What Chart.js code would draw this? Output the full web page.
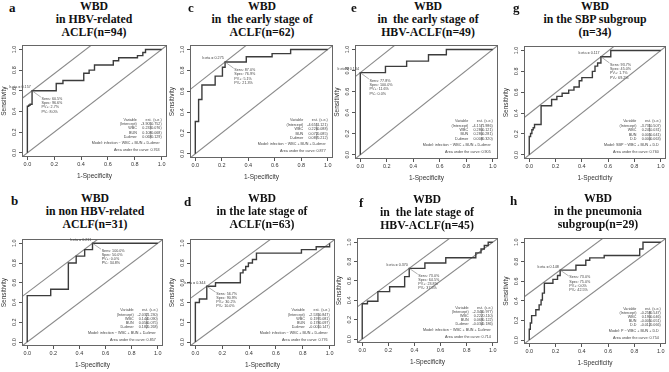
<!DOCTYPE html>
<html>
<head>
<meta charset="utf-8">
<script src="https://cdn.jsdelivr.net/npm/chart.js@4.4.1/dist/chart.umd.min.js"></script>
<style>
  body { margin: 0; background: #fff; width: 669px; height: 372px; position: relative; overflow: hidden; font-family: "Liberation Serif", serif; }
  .ttl { position: absolute; width: 170px; text-align: center; font-weight: bold; font-size: 11.8px; line-height: 13px; color: #111; white-space: pre; }
  .lab { position: absolute; font-weight: bold; font-size: 13px; line-height: 13px; color: #111; }
  canvas { position: absolute; }
</style>
</head>
<body>
<script>
// ---------- data ----------
const tickValues = [0, 0.2, 0.4, 0.6, 0.8, 1.0];

const fprA = [0, 0, 0.01, 0.01, 0.02, 0.02, 0.035, 0.035, 0.215, 0.215, 0.265, 0.265, 0.42, 0.42, 0.46, 0.46, 0.50, 0.50, 0.64, 0.64, 0.68, 0.68, 0.82, 0.82, 0.86, 0.86, 0.88, 0.88, 1];
const tprA = [0, 0.45, 0.45, 0.46, 0.46, 0.47, 0.47, 0.60, 0.60, 0.67, 0.67, 0.70, 0.70, 0.77, 0.77, 0.80, 0.80, 0.85, 0.85, 0.89, 0.89, 0.92, 0.92, 0.94, 0.94, 0.97, 0.97, 1, 1];
const cutA = [0.035, 0.60];

const fprB = [0, 0, 0.18, 0.18, 0.315, 0.315, 0.375, 0.375, 0.44, 0.44, 0.5, 0.5, 1];
const tprB = [0, 0.47, 0.47, 0.535, 0.535, 0.80, 0.80, 0.87, 0.87, 0.935, 0.935, 1, 1];
const cutB = [0.5, 1];

const fprC = [0, 0, 0.025, 0.025, 0.05, 0.05, 0.15, 0.15, 0.205, 0.205, 0.225, 0.225, 0.385, 0.385, 0.58, 0.58, 0.72, 0.72, 1];
const tprC = [0, 0.31, 0.31, 0.52, 0.52, 0.66, 0.66, 0.745, 0.745, 0.83, 0.83, 0.88, 0.88, 0.93, 0.93, 0.96, 0.96, 1, 1];
const cutC = [0.225, 0.88];

const fprD = [0, 0, 0.03, 0.03, 0.085, 0.085, 0.15, 0.15, 0.335, 0.335, 0.355, 0.355, 0.375, 0.375, 0.395, 0.395, 0.425, 0.425, 0.455, 0.455, 0.79, 0.79, 0.9, 0.9, 1, 1];
const tprD = [0, 0.40, 0.40, 0.435, 0.435, 0.565, 0.565, 0.60, 0.60, 0.70, 0.70, 0.73, 0.73, 0.765, 0.765, 0.80, 0.80, 0.835, 0.835, 0.90, 0.90, 0.935, 0.935, 0.965, 0.965, 1];
const cutD = [0.085, 0.565];

const fprE = [0, 0, 0.19, 0.19, 0.35, 0.35, 0.515, 0.515, 0.65, 0.65, 1];
const tprE = [0, 0.78, 0.78, 0.84, 0.84, 0.89, 0.89, 0.95, 0.95, 1, 1];
const cutE = [0, 0.78];

const fprF = [0, 0, 0.04, 0.04, 0.12, 0.12, 0.21, 0.21, 0.325, 0.325, 0.36, 0.36, 0.48, 0.48, 0.64, 0.64, 0.87, 0.87, 0.91, 0.91, 0.935, 0.935, 0.965, 0.965, 1];
const tprF = [0, 0.365, 0.365, 0.39, 0.39, 0.49, 0.49, 0.54, 0.54, 0.645, 0.645, 0.73, 0.73, 0.785, 0.785, 0.84, 0.84, 0.89, 0.89, 0.93, 0.93, 0.965, 0.965, 1, 1];
const cutF = [0.36, 0.73];

const fprG = [0, 0, 0.01, 0.01, 0.02, 0.02, 0.03, 0.03, 0.04, 0.04, 0.09, 0.09, 0.17, 0.17, 0.21, 0.21, 0.25, 0.25, 0.30, 0.30, 0.34, 0.34, 0.38, 0.38, 0.40, 0.40, 0.48, 0.48, 0.50, 0.50, 0.52, 0.52, 0.545, 0.545, 0.62, 0.62, 1];
const tprG = [0, 0.175, 0.175, 0.205, 0.205, 0.24, 0.24, 0.26, 0.26, 0.29, 0.29, 0.47, 0.47, 0.53, 0.53, 0.56, 0.56, 0.59, 0.59, 0.62, 0.62, 0.65, 0.65, 0.71, 0.71, 0.74, 0.74, 0.80, 0.80, 0.85, 0.85, 0.88, 0.88, 0.94, 0.94, 1, 1];
const cutG = [0.545, 0.94];

const fprH = [0, 0, 0.008, 0.008, 0.018, 0.018, 0.05, 0.05, 0.075, 0.075, 0.09, 0.09, 0.10, 0.10, 0.115, 0.115, 0.18, 0.18, 0.215, 0.215, 0.235, 0.235, 0.355, 0.355, 0.43, 0.43, 0.46, 0.46, 0.57, 0.57, 0.84, 0.84, 0.865, 0.865, 1];
const tprH = [0, 0.11, 0.11, 0.175, 0.175, 0.25, 0.25, 0.31, 0.31, 0.36, 0.36, 0.41, 0.41, 0.48, 0.48, 0.58, 0.58, 0.62, 0.62, 0.66, 0.66, 0.715, 0.715, 0.765, 0.765, 0.815, 0.815, 0.84, 0.84, 0.865, 0.865, 0.93, 0.93, 1, 1];
const cutH = [0.235, 0.715];

const modelInf = "Model: infection ~ WBC + BUN + D-dimer";

// ---------- panels ----------
const panels = [
  { letter: "a", title: ["WBD", "in HBV-related", "ACLF(n=94)"], fpr: fprA, tpr: tprA, cut: cutA,
    eta: "lr.eta = 0.157", sens: ["Sens: 60.5%", "Spec: 96.6%", "PV+: 2.7%", "PV-: 8.0%"],
    table: [["(Intercept)", "-3.905", "(0.752)"], ["WBC", "0.233", "(0.076)"], ["BUN", "0.108", "(0.068)"], ["D-dimer", "0.068", "(0.129)"]],
    model: modelInf, auc: "Area under the curve: 0.763",
    box: [22, 44, 167, 157], tc: 94, ty: 0, lx: 9, ly: 1 },
  { letter: "c", title: ["WBD", "in  the early stage of", "ACLF(n=62)"], fpr: fprC, tpr: tprC, cut: cutC,
    eta: "lr.eta = 0.275", sens: ["Sens: 87.0%", "Spec: 76.9%", "PV+: 5.1%", "PV-: 21.3%"],
    table: [["(Intercept)", "-4.655", "(1.121)"], ["WBC", "0.226", "(0.088)"], ["BUN", "0.072", "(0.085)"], ["D-dimer", "0.087", "(0.212)"]],
    model: modelInf, auc: "Area under the curve: 0.877",
    box: [190, 44, 333, 158], tc: 262, ty: 0, lx: 188, ly: 1 },
  { letter: "e", title: ["WBD", "in  the early stage of", "HBV-ACLF(n=49)"], fpr: fprE, tpr: tprE, cut: cutE,
    eta: "lr.eta = 0.134", sens: ["Sens: 77.8%", "Spec: 100.0%", "PV+: 11.6%", "PV-: 0.0%"],
    table: [["(Intercept)", "-4.157", "(1.986)"], ["WBC", "0.280", "(0.121)"], ["BUN", "0.280", "(0.281)"], ["D-dimer", "0.008", "(0.320)"]],
    model: modelInf, auc: "Area under the curve: 0.905",
    box: [355, 44, 498, 159], tc: 428, ty: 0, lx: 351, ly: 1 },
  { letter: "g", title: ["WBD", "in the SBP subgroup", "(n=34)"], fpr: fprG, tpr: tprG, cut: cutG,
    eta: "lr.eta = 0.117", sens: ["Sens: 93.7%", "Spec: 45.0%", "PV+: 1.7%", "PV-: 69.2%"],
    table: [["(Intercept)", "-3.731", "(0.507)"], ["WBC", "0.241", "(0.031)"], ["BUN", "0.005", "(0.041)"], ["D.D", "0.000", "(0.063)"]],
    model: "Model: SBP ~ WBC + BUN + D.D", auc: "Area under the curve: 0.760",
    box: [524, 45, 666, 159], tc: 595, ty: 0, lx: 513, ly: 1 },
  { letter: "b", title: ["WBD", "in non HBV-related", "ACLF(n=31)"], fpr: fprB, tpr: tprB, cut: cutB,
    eta: "lr.eta = 0.211", sens: ["Sens: 100.0%", "Spec: 50.0%", "PV+: 0.0%", "PV-: 34.8%"],
    table: [["(Intercept)", "-2.032", "(1.230)"], ["WBC", "0.144", "(0.090)"], ["BUN", "0.056", "(0.075)"], ["D-dimer", "0.182", "(0.268)"]],
    model: modelInf, auc: "Area under the curve: 0.857",
    box: [22, 238, 163, 346], tc: 95, ty: 192, lx: 11, ly: 194 },
  { letter: "d", title: ["WBD", "in the late stage of", "ACLF(n=63)"], fpr: fprD, tpr: tprD, cut: cutD,
    eta: "lr.eta = 0.344", sens: ["Sens: 56.7%", "Spec: 90.9%", "PV+: 30.2%", "PV-: 10.0%"],
    table: [["(Intercept)", "-2.535", "(0.847)"], ["WBC", "0.197", "(0.081)"], ["BUN", "0.178", "(0.097)"], ["D-dimer", "-0.001", "(0.147)"]],
    model: modelInf, auc: "Area under the curve: 0.776",
    box: [190, 238, 335, 346], tc: 262, ty: 192, lx: 184, ly: 195 },
  { letter: "f", title: ["WBD", "in  the late stage of", "HBV-ACLF(n=45)"], fpr: fprF, tpr: tprF, cut: cutF,
    eta: "lr.eta = 0.370", sens: ["Sens: 73.0%", "Spec: 64.5%", "PV+: 23.8%", "PV-: 37.5%"],
    table: [["(Intercept)", "-2.340", "(0.977)"], ["WBC", "0.222", "(0.110)"], ["BUN", "0.069", "(0.122)"], ["D-dimer", "-0.034", "(0.186)"]],
    model: modelInf, auc: "Area under the curve: 0.714",
    box: [357, 237, 498, 343], tc: 427, ty: 193, lx: 359, ly: 196 },
  { letter: "h", title: ["WBD", "in the pneumonia", "subgroup(n=29)"], fpr: fprH, tpr: tprH, cut: cutH,
    eta: "lr.eta = 0.148", sens: ["Sens: 73.0%", "Spec: 75.0%", "PV+: 0.0%", "PV-: 42.5%"],
    table: [["(Intercept)", "-0.258", "(0.547)"], ["WBC", "0.190", "(0.046)"], ["BUN", "-0.005", "(0.051)"], ["D.D", "-0.012", "(0.066)"]],
    model: "Model: P ~ WBC + BUN + D.D", auc: "Area under the curve: 0.754",
    box: [524, 237, 666, 344], tc: 598, ty: 192, lx: 510, ly: 194 }
];

const small = '"Liberation Sans", Arial, sans-serif';

// grey reference lines: slope-1 line through the cutoff, and the diagonal
function drawRefLines(chart, p) {
  const { ctx, chartArea: ca, scales: { x, y } } = chart;
  const cx = Number(p.cut[0]), cy = Number(p.cut[1]);
  const b = cy - cx;
  const segs = [
    [-0.04, -0.04 + b, 1.04 - b, 1.04],
    [-0.04, -0.04, 1.04, 1.04]
  ];
  ctx.save();
  ctx.beginPath();
  ctx.rect(ca.left, ca.top, ca.right - ca.left, ca.bottom - ca.top);
  ctx.clip();
  ctx.strokeStyle = "#8a8a8a";
  ctx.lineWidth = 1.1;
  for (const s of segs) {
    const px0 = x.getPixelForValue(s[0]), py0 = y.getPixelForValue(s[1]);
    const px1 = x.getPixelForValue(s[2]), py1 = y.getPixelForValue(s[3]);
    ctx.beginPath();
    ctx.moveTo(px0, py0);
    ctx.lineTo(px1, py1);
    ctx.stroke();
  }
  ctx.restore();
}

// box round the plot and the Epi-style texts
function drawRocText(chart, p) {
  const { ctx, chartArea: ca, scales: { x, y } } = chart;
  ctx.save();
  ctx.strokeStyle = "#666";
  ctx.lineWidth = 1;
  ctx.strokeRect(Math.round(ca.left) + 0.5, Math.round(ca.top) + 0.5, Math.round(ca.right - ca.left) - 1, Math.round(ca.bottom - ca.top) - 1);

  ctx.fillStyle = "#444";
  ctx.font = "3.7px " + small;
  ctx.textBaseline = "middle";

  const cx = p.cut[0], cy = p.cut[1];
  ctx.textAlign = "right";
  ctx.fillText(p.eta, x.getPixelForValue(cx - 0.01), y.getPixelForValue(cy + 0.035));

  // leader line to the sens block
  ctx.strokeStyle = "#777";
  ctx.lineWidth = 0.6;
  ctx.beginPath();
  ctx.moveTo(x.getPixelForValue(cx), y.getPixelForValue(cy));
  ctx.lineTo(x.getPixelForValue(cx + 0.065), y.getPixelForValue(cy - 0.06));
  ctx.stroke();

  ctx.textAlign = "left";
  p.sens.forEach((s, i) => {
    ctx.fillText(s, x.getPixelForValue(cx + 0.07), y.getPixelForValue(cy - 0.075 - 0.042 * i));
  });

  // coefficient table
  ctx.textAlign = "right";
  const rows = [["Variable", "est.", "(s.e.)"]].concat(p.table);
  rows.forEach((r, i) => {
    const yy = y.getPixelForValue(0.32 - 0.042 * i);
    ctx.fillText(r[0], x.getPixelForValue(0.815), yy);
    ctx.fillText(r[1], x.getPixelForValue(0.925), yy);
    ctx.fillText(r[2], x.getPixelForValue(1.0), yy);
  });
  ctx.fillText(p.model, x.getPixelForValue(0.985), y.getPixelForValue(0.095));
  ctx.fillText(p.auc, x.getPixelForValue(0.985), y.getPixelForValue(0.025));
  ctx.restore();
}

panels.forEach(p => {
  // titles as html text
  const t = document.createElement("div");
  t.className = "ttl";
  t.style.left = (p.tc - 85) + "px";
  t.style.top = p.ty + "px";
  t.textContent = p.title.join("\n");
  document.body.appendChild(t);

  const l = document.createElement("div");
  l.className = "lab";
  l.style.left = p.lx + "px";
  l.style.top = p.ly + "px";
  l.textContent = p.letter;
  document.body.appendChild(l);

  const [bl, bt, br, bb] = p.box;
  const w = br - bl + 24, h = bb - bt + 3 + 24;
  const c = document.createElement("canvas");
  c.width = w; c.height = h;
  c.style.left = (bl - 22) + "px";
  c.style.top = (bt - 3) + "px";
  c.style.width = w + "px"; c.style.height = h + "px";
  document.body.appendChild(c);

  new Chart(c.getContext("2d"), {
    type: "scatter",
    data: {
      datasets: [
        {
          data: p.fpr.map((v, i) => ({ x: v, y: p.tpr[i] })),
          showLine: true, borderColor: "#3c3c3c", borderWidth: 1.4, pointRadius: 0, tension: 0, clip: 0
        }
      ]
    },
    options: {
      responsive: false,
      animation: false,
      events: [],
      layout: { padding: { left: 0, top: 3, right: 2, bottom: 0 } },
      plugins: {
        legend: { display: false },
        tooltip: { enabled: false }
      },
      scales: {
        x: {
          type: "linear", min: -0.04, max: 1.04,
          afterBuildTicks: s => { s.ticks = tickValues.map(v => ({ value: v })); },
          afterFit: s => { s.height = 24; },
          ticks: { autoSkip: false, maxRotation: 0, padding: 1, color: "#333",
                   font: { size: 5.5, family: small }, callback: v => v.toFixed(1) },
          grid: { drawOnChartArea: false, tickLength: 3, color: "#555" },
          border: { display: false },
          title: { display: true, text: "1-Specificity", color: "#333",
                   font: { size: 6.5, family: small }, padding: { top: 0, bottom: 1 } }
        },
        y: {
          type: "linear", min: -0.04, max: 1.04,
          afterBuildTicks: s => { s.ticks = tickValues.map(v => ({ value: v })); },
          afterFit: s => { s.width = 22; },
          ticks: { autoSkip: false, minRotation: 90, maxRotation: 90, crossAlign: "center", padding: 1,
                   color: "#333", font: { size: 5.5, family: small }, callback: v => v.toFixed(1) },
          grid: { drawOnChartArea: false, tickLength: 3, color: "#555" },
          border: { display: false },
          title: { display: true, text: "Sensitivity", color: "#333",
                   font: { size: 6.5, family: small }, padding: { top: 0, bottom: 1 } }
        }
      }
    },
    plugins: [{
      id: "rocExtras",
      beforeDatasetsDraw: chart => drawRefLines(chart, p),
      afterDatasetsDraw: chart => drawRocText(chart, p)
    }]
  });
});
</script>
</body>
</html>
